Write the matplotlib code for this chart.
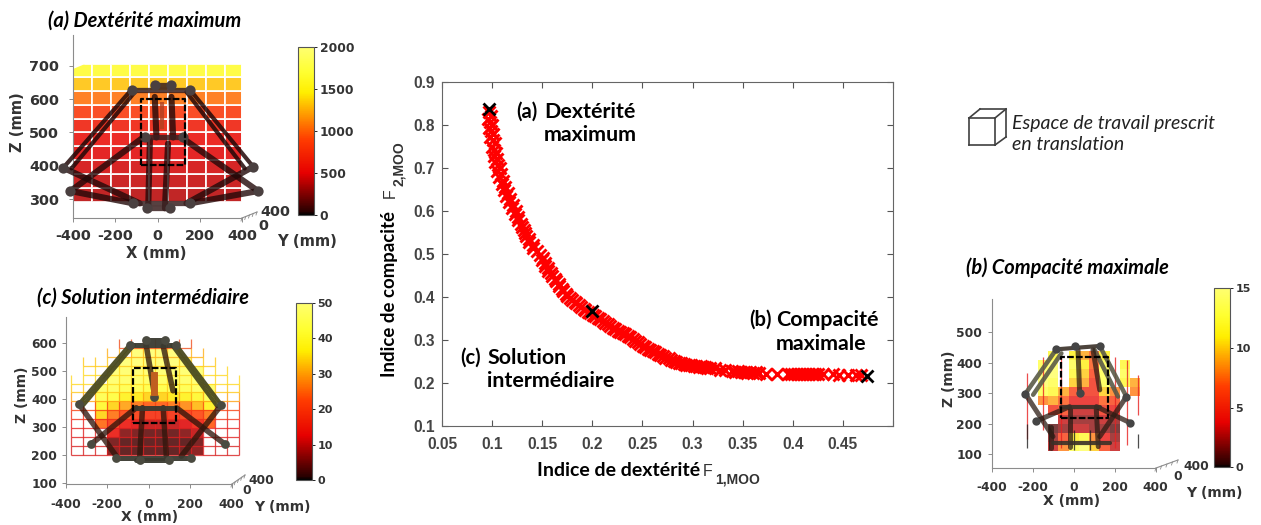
import numpy as np
import matplotlib
matplotlib.use("Agg")
import matplotlib.pyplot as plt
from matplotlib.colors import LinearSegmentedColormap
from matplotlib.patches import Polygon

plt.rcParams["axes.unicode_minus"] = False

W, H = 1261, 525
n = np.nan

# Pareto front
pareto_x = [
    .097, .099, .096, .098, .100, .097, .099, .101, .098, .101,
    .103, .100, .102, .104, .102, .105, .103, .106, .108, .105,
    .109, .107, .111, .110, .113, .112, .116, .114, .118, .117,
    .121, .120, .124, .123, .126, .126, .129, .130, .132, .133,
    .134, .137, .137, .141, .141, .145,
    .148, .151, .150, .153, .153, .156, .156, .159, .160, .163,
    .164, .167, .167, .170, .171, .174, .175, .178, .180, .183,
    .184, .187, .189, .192, .193, .196, .198, .201, .203, .206,
    .208, .211, .213, .216, .218, .221, .223, .226, .228, .231,
    .233, .236, .238, .241, .243, .246, .248, .251, .253, .256,
    .258, .261, .263, .266, .268, .271, .273, .276, .278, .281,
    .283, .286, .288, .291, .293, .296, .298, .301, .303, .306,
    .308, .310, .312, .314, .317,
    .322, .327, .332, .339, .342, .345, .348, .351, .354, .357, .360,
    .363, .366, .373, .384, .395, .398, .401, .404, .407, .410, .413,
    .416, .419, .422, .425, .430, .440, .446, .455, .463, .468,
]
pareto_y = [
    .830, .822, .815, .808, .800, .793, .786, .778, .771, .764,
    .757, .750, .742, .735, .728, .720, .713, .706, .699, .692,
    .685, .678, .670, .663, .656, .649, .642, .635, .628, .620,
    .613, .606, .599, .592, .585, .578, .570, .563, .556, .549,
    .542, .535, .528, .521, .514, .507,
    .497, .491, .485, .479, .473, .467, .461, .455, .449, .443,
    .437, .431, .425, .419, .413, .407, .403, .398, .394, .389,
    .385, .381, .377, .373, .370, .366, .362, .359, .355, .351,
    .348, .344, .340, .337, .333, .329, .326, .322, .319, .316,
    .313, .309, .306, .302, .298, .295, .291, .287, .284, .280,
    .277, .274, .271, .268, .265, .262, .259, .257, .254, .252,
    .250, .247, .246, .244, .243, .241, .241, .240, .239, .238,
    .240, .237, .238, .235, .236,
    .236, .231, .230, .228, .226, .227, .225, .226, .224, .225, .224,
    .225, .223, .222, .222, .222, .221, .222, .221, .221, .221, .222,
    .221, .221, .220, .221, .220, .220, .219, .219, .219, .218,
]
best_x = [.0965, .2, .4745]
best_y = [.838, .367, .217]

# (a) dexterity slices
x_edges_a = [-400, -310, -220, -130, -40, 50, 140, 230, 320, 400, 450]
z_edges_a = [292, 333, 375, 416, 458, 500, 541, 583, 624, 666, 707]
values_a = [390, 420, 450, 490, 540, 640, 820, 1050, 1320, 1650]
outline_a = [(-400, 292), (-400, 690), (-345, 707), (450, 707), (435, 690), (435, 310), (400, 292)]
arms_a = [(-123, 629, -446, 394), (-107, 622, -407, 392), (153, 629, 453, 397), (137, 622, 413, 392)]
rods_a = [(-446, 394, -84, 287), (453, 397, 137, 287), (-412, 324, -68, 485), (476, 324, 114, 485),
          (-412, 324, -115, 287), (476, 324, 153, 287), (-13, 607, -5, 485), (66, 607, 74, 485),
          (-36, 477, -44, 272), (50, 467, 35, 272)]
plates_a = [(-123, 629, 153, 629), (-13, 642, 66, 642), (-60, 485, 121, 485), (-115, 287, 153, 287), (-52, 272, 58, 272)]
joints_a = [(-123, 629), (153, 629), (-446, 394), (453, 397), (-412, 324), (476, 324), (-13, 642), (66, 642),
            (-60, 485), (121, 485), (-115, 287), (153, 287), (-52, 272), (58, 272)]
spring_a = [19, 517, 587]
box_a = [-76, 129, 402, 602]

# (c) intermediate solution slices
x_edges_c = [-375, -317, -259, -201, -143, -85, -27, 31, 89, 147, 205, 263, 321, 379, 437]
z_edges_c = [200, 232, 264, 296, 328, 360, 392, 424, 456, 488, 520, 552, 584, 616]
values_c = [
    [n, n, n, 6, 3, 3, 3, 3, 3, 4, 6, n, n, n],
    [n, n, n, 5, 3, 3, 3, 3, 3, 3, 5, n, n, n],
    [n, n, n, 14, 6, 5, 4, 4, 4, 6, 10, n, n, n],
    [n, n, 25, 20, 14, 12, 10, 10, 10, 12, 16, 24, n, n],
    [n, n, 34, 26, 22, 20, 18, 18, 18, 20, 22, 26, n, n],
    [n, n, 40, 34, 30, 26, 24, 24, 26, 28, 32, 38, n, n],
    [n, n, 44, 42, 38, 36, 34, 34, 36, 38, 40, 44, n, n],
    [n, n, 47, 46, 44, 44, 43, 43, 44, 44, 46, 47, n, n],
    [n, n, n, 48, 47, 47, 46, 46, 47, 47, 48, n, n, n],
    [n, n, n, 49, 48, 48, 48, 48, 48, 48, 49, n, n, n],
    [n, n, n, n, 49, 49, 49, 49, 49, 49, n, n, n, n],
    [n, n, n, n, n, 49, 49, 49, 49, n, n, n, n, n],
    [n, n, n, n, n, n, n, n, n, n, n, n, n, n],
]
grid_left_c = [-375, -375, -375, -375, -375, -375, -375, -375, -375, -317, -317, -201, -143]
grid_right_c = [437, 437, 437, 437, 437, 437, 437, 437, 437, 379, 321, 263, 205]
grid_color_c = ["#d82020", "#d82020", "#e02020", "#e82020", "#f03018", "#f84010",
                "#ffa010", "#ffc818", "#ffd820", "#ffd820", "#ffc818", "#ffb018", "#f05020"]
arms_c = [(-92, 594, -336, 382), (-72, 594, -316, 378), (133, 594, 350, 379), (113, 594, 330, 375)]
rods_c = [(-336, 382, -156, 195), (350, 379, 157, 195), (-276, 239, -60, 369), (366, 239, 133, 369),
          (-11, 590, 26, 425), (70, 590, 117, 430), (-30, 369, -43, 195), (70, 369, 85, 195)]
plates_c = [(-92, 594, 133, 594), (-11, 612, 80, 612), (-60, 369, 133, 369), (-156, 190, 206, 190), (-60, 182, 100, 182)]
joints_c = [(-92, 594), (133, 594), (-11, 612), (80, 612), (-336, 382), (350, 379), (-276, 239), (366, 239),
            (26, 409), (-156, 187), (206, 187), (-40, 182), (100, 182)]
spring_c = [26, 427, 486]
box_c = [-75, 133, 313, 510]

# (b) compactness slices
x_edges_b = [-225 + 50 * i for i in range(13)]
z_edges_b = [110 + 30 * i for i in range(12)]
values_b = [
    [n, n, 3, 8, 13, 14, 10, 6, 3, n, n, n],
    [n, n, 2, 6, 11, 12, 8, 4, 2, n, n, n],
    [n, n, 1, 2, 3, 3, 2, 2, 1, n, n, n],
    [n, n, n, 3, 2, 2, 2, 3, 2, n, n, n],
    [n, n, 5, 6, 3, 3, 3, 5, 4, n, n, n],
    [n, 8, 9, 7, 4, 4, 4, 7, 6, n, n, n],
    [n, 13, 12, 9, 6, 5, 5, 10, 8, n, 8, n],
    [n, 14, 13, n, 10, 9, 5, 13, n, 12, 9, n],
    [n, 14, 14, n, 12, 10, 6, 13, n, 13, n, n],
    [n, 13, 14, n, 13, 11, 7, 13, n, 12, n, n],
    [n, n, 12, n, 11, 9, 7, 11, n, n, n, n],
]
red_lines_b = [(-226, 360, 330), (-226, 320, 354), (-200, 267, 320), (-120, 400, 200), (-100, 440, 190), (-170, 230, 300)]
black_lines_b = [(-226, 120, 354), (-207, 161, 320), (-185, 196, 257)]
red_posts_b = [(-226, 150, 365), (314, 230, 360), (-150, 180, 420), (260, 130, 410), (200, 120, 420), (-60, 120, 420)]
black_posts_b = [(-226, 120, 200), (-120, 115, 200), (314, 120, 165), (0, 115, 180), (80, 115, 180)]
arms_b = [(-85, 444, -236, 298), (-60, 431, -198, 295), (127, 455, 257, 289), (102, 442, 216, 289)]
rods_b = [(-236, 298, -101, 158), (257, 289, 127, 158), (-182, 209, -20, 256), (273, 204, 111, 256),
          (21, 442, 29, 300), (94, 442, 127, 311), (-109, 191, -109, 120), (-20, 250, -20, 125), (110, 250, 120, 125)]
plates_b = [(-85, 444, 127, 455), (-60, 256, 130, 256), (-101, 136, 176, 136)]
joints_b = [(-85, 444), (5, 455), (127, 455), (-236, 298), (257, 289), (-182, 209), (273, 204), (29, 300)]
box_b = [-60, 167, 218, 420]

depth_steps = [0, 0.25, 0.5, 0.75, 1]

fig = plt.figure(figsize=(W / 100, H / 100), dpi=100)

hot_stops = [(0, "#000000"), (0.02, "#2a0000"), (0.25, "#e60000"), (0.45, "#ff3c00"),
             (0.6, "#ff9a00"), (0.73, "#ffee00"), (0.85, "#ffff30"), (1, "#ffff70")]
heat = LinearSegmentedColormap.from_list("heat", hot_stops)
heat.set_bad((1, 1, 1, 0))


def axes_px(x0, x1, y0, y1):
    return fig.add_axes([x0 / W, 1 - y1 / H, (x1 - x0) / W, (y1 - y0) / H])


def style_panel(ax, xlim, zlim, zticks, size, xpad, zpad):
    ax.set_xlim(xlim)
    ax.set_ylim(zlim)
    ax.patch.set_alpha(0)
    ax.spines["top"].set_visible(False)
    ax.spines["right"].set_visible(False)
    ax.spines["left"].set_color("#8c8c8c")
    ax.spines["bottom"].set_color("#8c8c8c")
    ax.set_xticks([-400, -200, 0, 200, 400])
    ax.set_yticks(zticks)
    ax.tick_params(length=3, width=0.7, color="#8c8c8c", labelcolor="#333333", labelsize=size)
    ax.tick_params(axis="x", pad=xpad)
    ax.tick_params(axis="y", pad=zpad)
    for label in ax.get_xticklabels() + ax.get_yticklabels():
        label.set_fontweight("bold")


def draw_links(ax, links, lw, color, alpha=1.0):
    for x1, z1, x2, z2 in links:
        ax.plot([x1, x2], [z1, z2], color=color, lw=lw, alpha=alpha, solid_capstyle="round", clip_on=False, zorder=4)


def draw_joints(ax, joints, size, color):
    xs = [j[0] for j in joints]
    zs = [j[1] for j in joints]
    ax.scatter(xs, zs, s=size, color=color, zorder=5, clip_on=False, linewidths=0)


def draw_box(ax, box):
    x0, x1, z0, z1 = box
    ax.plot([x0, x1, x1, x0, x0], [z0, z0, z1, z1, z0], color="black", lw=1.6, ls=(0, (3, 1)), zorder=6)


def colorbar_px(mesh, x0, x1, y0, y1, ticks, size):
    cax = axes_px(x0, x1, y0, y1)
    cb = fig.colorbar(mesh, cax=cax)
    cb.solids.set_alpha(1)
    cb.set_ticks(ticks)
    cb.outline.set_edgecolor("#555555")
    cb.ax.tick_params(length=2, width=0.6, labelsize=size, labelcolor="#333333", pad=2)
    for label in cb.ax.get_yticklabels():
        label.set_fontweight("bold")


# panel (a)
ax_a = axes_px(73, 242, 35, 218)
style_panel(ax_a, (-400, 400), (243, 793), [300, 400, 500, 600, 700], 10.4, 5, 7)
mesh_a = ax_a.pcolormesh(x_edges_a, z_edges_a, np.array(values_a).reshape(-1, 1).repeat(len(x_edges_a) - 1, axis=1),
                         cmap=heat, vmin=0, vmax=2000, alpha=0.85, edgecolors="#ffffff", linewidth=0.12)
mesh_a.set_clip_path(Polygon(outline_a, transform=ax_a.transData))
draw_links(ax_a, arms_a, 3, "#220808", 0.85)
draw_links(ax_a, rods_a, 4.4, "#220808", 0.8)
draw_links(ax_a, plates_a, 3.8, "#3a2020", 0.85)
draw_joints(ax_a, joints_a, 55, "#4a4040")
ax_a.plot([spring_a[0], spring_a[0]], spring_a[1:], color="#b04020", lw=3, alpha=0.8, zorder=5)
draw_box(ax_a, box_a)
colorbar_px(mesh_a, 298.3, 314.3, 47, 215, [0, 500, 1000, 1500, 2000], 8.8)

# panel (c)
ax_c = axes_px(65.7, 231.7, 317, 484)
style_panel(ax_c, (-400, 400), (95, 695), [100, 200, 300, 400, 500, 600], 8.8, 7, 3)
mesh_c = ax_c.pcolormesh(x_edges_c, z_edges_c, np.ma.masked_invalid(values_c), cmap=heat, vmin=0, vmax=50, alpha=0.85)
mesh_c.set_clip_on(False)
for i, (left, right) in enumerate(zip(grid_left_c, grid_right_c)):
    ax_c.hlines(z_edges_c[i], left, right, color=grid_color_c[i], lw=0.9, alpha=0.8, clip_on=False)
    for x in x_edges_c:
        if left <= x <= right:
            ax_c.vlines(x, z_edges_c[i], z_edges_c[i + 1], color=grid_color_c[i], lw=0.9, alpha=0.8, clip_on=False)
draw_links(ax_c, arms_c, 3, "#4a4a20", 0.95)
draw_links(ax_c, rods_c, 4, "#30160c", 0.78)
draw_links(ax_c, plates_c, 3.6, "#3a3a30", 0.95)
draw_joints(ax_c, joints_c, 40, "#4a4a40")
ax_c.plot([spring_c[0], spring_c[0]], spring_c[1:], color="#c06020", lw=5, zorder=5)
draw_box(ax_c, box_c)
colorbar_px(mesh_c, 296, 312, 302.7, 480, [0, 10, 20, 30, 40, 50], 8)

# panel (b)
ax_b = axes_px(991.7, 1155.7, 299.3, 468.3)
style_panel(ax_b, (-400, 400), (54, 608), [100, 200, 300, 400, 500], 8.8, 6, 4)
mesh_b = ax_b.pcolormesh(x_edges_b, z_edges_b, np.ma.masked_invalid(values_b), cmap=heat, vmin=0, vmax=15, alpha=0.75)
for z, x0, x1 in red_lines_b:
    ax_b.hlines(z, x0, x1, color="#e82020", lw=0.9, alpha=0.8)
for z, x0, x1 in black_lines_b:
    ax_b.hlines(z, x0, x1, color="#202020", lw=0.9, alpha=0.8)
for x, z0, z1 in red_posts_b:
    ax_b.vlines(x, z0, z1, color="#e82020", lw=0.9, alpha=0.8)
for x, z0, z1 in black_posts_b:
    ax_b.vlines(x, z0, z1, color="#202020", lw=0.9, alpha=0.8)
draw_links(ax_b, arms_b, 3.2, "#5a5a48", 0.9)
draw_links(ax_b, rods_b, 3.6, "#2c1c14", 0.75)
draw_links(ax_b, plates_b, 3, "#3a3028", 0.9)
draw_joints(ax_b, joints_b, 36, "#454545")
draw_box(ax_b, box_b)
colorbar_px(mesh_b, 1214.3, 1230, 288.3, 467.3, [0, 5, 10, 15], 8)

# centre plot
ax = axes_px(442, 893, 82, 426)
ax.plot(pareto_x, pareto_y, ls="none", marker="x", color="#ff0000", ms=8, mew=2.1)
ax.plot(best_x, best_y, ls="none", marker="x", color="black", ms=8.5, mew=2)
ax.set_xlim(0.05, 0.5)
ax.set_ylim(0.1, 0.9)
ax.set_xticks([0.05, 0.1, 0.15, 0.2, 0.25, 0.3, 0.35, 0.4, 0.45, 0.5])
ax.set_xticklabels(["0.05", "0.1", "0.15", "0.2", "0.25", "0.3", "0.35", "0.4", "0.45", ""])
ax.set_yticks([0.1, 0.2, 0.3, 0.4, 0.5, 0.6, 0.7, 0.8, 0.9])
ax.tick_params(direction="in", top=True, right=True, length=4, width=0.8, color="#555555",
               labelcolor="#444444", labelsize=11.2)
ax.tick_params(axis="x", pad=8)
ax.tick_params(axis="y", pad=5)
for label in ax.get_xticklabels() + ax.get_yticklabels():
    label.set_family("Liberation Sans")
    label.set_fontweight("bold")
for side in ax.spines.values():
    side.set_color("#666666")

# everything placed in pixels goes on a full-figure overlay
over = fig.add_axes([0, 0, 1, 1], zorder=10)
over.set_xlim(0, W)
over.set_ylim(H, 0)
over.axis("off")


def px_text(x, y, s, size, family="Lato", weight="bold", style="normal", color="black", ha="left", rotation=0):
    over.text(x, y, s, fontsize=size, family=family, weight=weight, style=style, color=color,
              ha=ha, va="center", rotation=rotation, rotation_mode="anchor")


# panel titles
px_text(48, 21, "(a) Dextérité maximum", 14.4, style="italic")
px_text(37, 298, "(c) Solution intermédiaire", 14.4, style="italic")
px_text(966, 268, "(b) Compacité maximale", 14.4, style="italic")

# axis names of the small panels
for x, y, s, size in [(156, 254, "X (mm)", 10.6), (307, 242, "Y (mm)", 10.6), (150, 517, "X (mm)", 10),
                      (282, 507, "Y (mm)", 10), (1072, 501, "X (mm)", 10), (1214, 493, "Y (mm)", 10)]:
    px_text(x, y, s, size, family="DejaVu Sans", color="#333333", ha="center")
for x, y, s, size in [(17, 122, "Z (mm)", 10.6), (22, 395, "Z (mm)", 10), (949, 379, "Z (mm)", 10)]:
    px_text(x, y, s, size, family="DejaVu Sans", color="#333333", ha="center", rotation=90)

# depth axis stubs with their small ticks
for x0, y0, x1, y1 in [(242, 218, 257, 212), (232, 484, 245, 475), (1156, 468, 1178, 460)]:
    over.plot([x0, x1], [y0, y1], color="#8c8c8c", lw=0.8)
    for t in depth_steps:
        xt = x0 + t * (x1 - x0)
        yt = y0 + t * (y1 - y0)
        over.plot([xt, xt - 1], [yt, yt + 3], color="#8c8c8c", lw=0.6)
for x, y, s, size in [(258, 226, "0", 10.4), (260, 212, "400", 10.4), (242, 490, "0", 8.8), (248, 481, "400", 8.8),
                      (1173, 477, "0", 8.8), (1183, 466, "400", 8.8)]:
    px_text(x, y, s, size, family="DejaVu Sans", color="#333333")

# centre plot labels
px_text(537, 471, "Indice de dextérité", 14)
px_text(703, 471, "F", 11.5, family="Liberation Sans", weight="normal", color="#333333")
px_text(715, 480, "1,MOO", 10, family="Liberation Sans", color="#333333")
px_text(389, 377, "Indice de compacité", 13.4, rotation=90)
px_text(390, 198, "F", 11.5, family="Liberation Sans", weight="normal", color="#333333", rotation=90)
px_text(399, 186, "2,MOO", 10, family="Liberation Sans", color="#333333", rotation=90)

px_text(516, 112, "(a)", 14.5)
px_text(544, 112, "Dextérité", 15.4)
px_text(544, 135, "maximum", 15.4)
px_text(749, 320, "(b)", 14.5)
px_text(776, 320, "Compacité", 15.4)
px_text(776, 344, "maximale", 15.4)
px_text(460, 358, "(c)", 14.5)
px_text(487, 358, "Solution", 15.4)
px_text(487, 381, "intermédiaire", 15.4)

# legend cube
for x0, y0, x1, y1 in [(969, 118, 995, 118), (995, 118, 995, 145), (995, 145, 969, 145), (969, 145, 969, 118),
                       (969, 118, 980, 109), (995, 118, 1006, 109), (995, 145, 1006, 137),
                       (980, 109, 1006, 109), (1006, 109, 1006, 137)]:
    over.plot([x0, x1], [y0, y1], color="#404040", lw=1.2)
px_text(1012, 123, "Espace de travail prescrit", 14, weight="normal", style="italic", color="#222222")
px_text(1012, 144, "en translation", 14, weight="normal", style="italic", color="#222222")

fig.savefig("out.png", dpi=100)
